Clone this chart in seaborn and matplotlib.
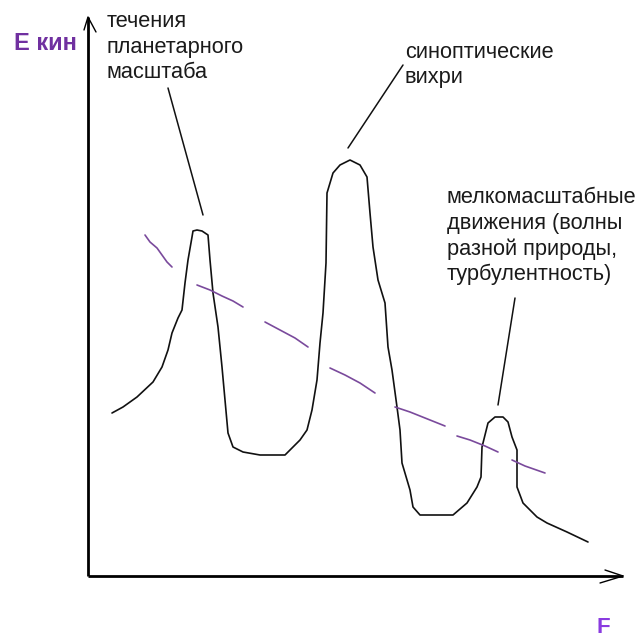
import numpy as np
import pandas as pd
import matplotlib
matplotlib.use("Agg")
import matplotlib.pyplot as plt
import seaborn as sns

# ---- data (F = frequency axis, E = kinetic energy) ----
curve_f = [24, 35, 49, 65, 74, 80, 84, 90, 94, 97,
           100, 104, 105, 109, 114, 120, 122, 125, 130, 134,
           137, 140, 145, 155, 172, 197, 202, 212, 219, 224,
           229, 232, 235, 238, 239, 245, 252, 262, 272, 279,
           282, 285, 290, 297, 300, 304, 309, 312, 314, 322,
           325, 332, 365, 379, 389, 393, 394, 400, 407, 415,
           420, 424, 429, 429, 435, 449, 459, 479, 500]
curve_e = [163, 169, 179, 194, 209, 226, 243, 258, 266, 293,
           316, 339, 345, 346, 345, 341, 316, 283, 249, 209,
           176, 143, 129, 124, 121, 121, 126, 136, 146, 166,
           196, 233, 263, 313, 383, 403, 411, 416, 411, 399,
           363, 329, 296, 273, 229, 206, 169, 146, 113, 86,
           69, 61, 61, 73, 89, 99, 129, 153, 159, 159,
           154, 139, 126, 89, 73, 59, 53, 44, 34]

# purple dashed trend, drawn as separate strokes
trend_seg = [1, 1, 1, 1, 1, 1, 2, 2, 2, 2, 2, 3, 3, 3, 3, 4, 4, 4, 4,
             5, 5, 5, 5, 6, 6, 6, 6, 7, 7, 7]
trend_f = [57, 62, 69, 74, 79, 84, 109, 122, 134, 145, 155, 177, 192, 207, 220,
           242, 257, 272, 287, 307, 322, 337, 357, 369, 382, 397, 410, 424, 437, 457]
trend_e = [341, 334, 328, 321, 314, 309, 291, 286, 280, 275, 269, 254, 246, 238, 229,
           208, 201, 193, 183, 169, 164, 158, 150, 140, 136, 130, 124, 116, 110, 103]

labels = [["течения", "планетарного", "масштаба"],
          ["синоптические", "вихри"],
          ["мелкомасштабные", "движения (волны", "разной природы,", "турбулентность)"]]
y_label = "Е кин"
x_label = "F"

# ---- figure ----
sns.set_theme(style="white")
plt.rcParams["font.family"] = ["Liberation Sans", "DejaVu Sans"]

fig = plt.figure(figsize=(6.43, 6.38), dpi=100)
ax = fig.add_axes([0, 0, 1, 1])

# axes with arrows
ax.plot([0, 0], [0, 559], color="black", lw=2.0, solid_capstyle="butt")
ax.plot([0, 535], [0, 0], color="black", lw=2.0, solid_capstyle="butt")
ax.plot([-4, 0, 8], [546, 559, 544], color="black", lw=1.0)
ax.plot([517, 535, 512], [6, 0, -7], color="black", lw=1.0)

# main curve
curve_df = pd.DataFrame({"F": curve_f, "E": curve_e})
sns.lineplot(data=curve_df, x="F", y="E", sort=False, estimator=None,
             color="#111111", lw=1.2, ax=ax)

# trend strokes
trend_df = pd.DataFrame({"seg": trend_seg, "F": trend_f, "E": trend_e})
sns.lineplot(data=trend_df, x="F", y="E", units="seg", estimator=None, sort=False,
             color="#7A4A9C", lw=1.2, ax=ax)

# leader lines
leaders = [((80, 115), (488, 361)), ((315, 260), (511, 428)), ((427, 410), (278, 171))]
for xs, ys in leaders:
    ax.plot(xs, ys, color="#111111", lw=1.1)

ax.set_xlim(-88, 555)
ax.set_ylim(-62, 576)
ax.axis("off")

fs = 15.7
txt_color = "#1a1a1a"
for line, base in zip(labels[0], [549, 523, 498]):
    ax.text(19, base, line, fontsize=fs, color=txt_color, ha="left", va="baseline")
for line, base in zip(labels[1], [518, 493]):
    ax.text(317, base, line, fontsize=fs, color=txt_color, ha="left", va="baseline")
for line, base in zip(labels[2], [373, 347, 321, 296]):
    ax.text(359, base, line, fontsize=fs, color=txt_color, ha="left", va="baseline")

ax.text(-74, 526, y_label, fontsize=17, fontweight="bold", color="#7030A0",
        ha="left", va="baseline")
ax.text(509, -57, x_label, fontsize=16, fontweight="bold", color="#8A3BE0",
        ha="left", va="baseline")

fig.savefig("out.png", dpi=100, facecolor="white")
